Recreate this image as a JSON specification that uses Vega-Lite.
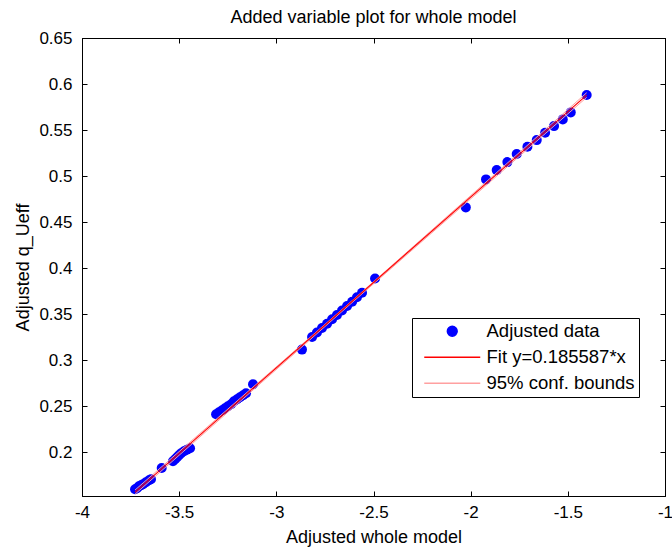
{
  "$schema": "https://vega.github.io/schema/vega-lite/v6.json",
  "width": 583,
  "height": 458,
  "autosize": {"type": "none"},
  "padding": {"left": 82, "top": 38, "right": 7, "bottom": 53},
  "background": "white",
  "title": {"text": "Added variable plot for whole model", "font": "Liberation Sans", "fontSize": 18, "fontWeight": "normal", "color": "black", "offset": 2},
  "config": {
    "view": {"stroke": "black", "strokeWidth": 1},
    "axis": {"domainColor": "black", "tickColor": "black", "labelColor": "black", "titleColor": "black", "labelFont": "Liberation Sans", "titleFont": "Liberation Sans", "labelFontSize": 17, "titleFontSize": 18, "titleFontWeight": "normal", "grid": false, "tickSize": -5, "labelPadding": 8, "labelFlush": false, "labelOverlap": false}
  },
  "datasets": {
    "pts": [
      {"series": "Adjusted data", "x": -3.727, "y": 0.1598},
      {"series": "Adjusted data", "x": -3.717, "y": 0.1609},
      {"series": "Adjusted data", "x": -3.707, "y": 0.1630},
      {"series": "Adjusted data", "x": -3.696, "y": 0.1641},
      {"series": "Adjusted data", "x": -3.686, "y": 0.1652},
      {"series": "Adjusted data", "x": -3.671, "y": 0.1674},
      {"series": "Adjusted data", "x": -3.655, "y": 0.1696},
      {"series": "Adjusted data", "x": -3.645, "y": 0.1707},
      {"series": "Adjusted data", "x": -3.590, "y": 0.1829},
      {"series": "Adjusted data", "x": -3.532, "y": 0.1902},
      {"series": "Adjusted data", "x": -3.521, "y": 0.1924},
      {"series": "Adjusted data", "x": -3.511, "y": 0.1946},
      {"series": "Adjusted data", "x": -3.501, "y": 0.1967},
      {"series": "Adjusted data", "x": -3.490, "y": 0.1989},
      {"series": "Adjusted data", "x": -3.475, "y": 0.2011},
      {"series": "Adjusted data", "x": -3.460, "y": 0.2027},
      {"series": "Adjusted data", "x": -3.444, "y": 0.2043},
      {"series": "Adjusted data", "x": -3.310, "y": 0.2413},
      {"series": "Adjusted data", "x": -3.295, "y": 0.2435},
      {"series": "Adjusted data", "x": -3.279, "y": 0.2457},
      {"series": "Adjusted data", "x": -3.264, "y": 0.2478},
      {"series": "Adjusted data", "x": -3.249, "y": 0.2500},
      {"series": "Adjusted data", "x": -3.233, "y": 0.2522},
      {"series": "Adjusted data", "x": -3.218, "y": 0.2554},
      {"series": "Adjusted data", "x": -3.202, "y": 0.2576},
      {"series": "Adjusted data", "x": -3.187, "y": 0.2598},
      {"series": "Adjusted data", "x": -3.171, "y": 0.2620},
      {"series": "Adjusted data", "x": -3.156, "y": 0.2641},
      {"series": "Adjusted data", "x": -3.120, "y": 0.2739},
      {"series": "Adjusted data", "x": -2.868, "y": 0.3115},
      {"series": "Adjusted data", "x": -2.816, "y": 0.3253},
      {"series": "Adjusted data", "x": -2.791, "y": 0.3301},
      {"series": "Adjusted data", "x": -2.765, "y": 0.3349},
      {"series": "Adjusted data", "x": -2.739, "y": 0.3397},
      {"series": "Adjusted data", "x": -2.713, "y": 0.3445},
      {"series": "Adjusted data", "x": -2.688, "y": 0.3492},
      {"series": "Adjusted data", "x": -2.662, "y": 0.3540},
      {"series": "Adjusted data", "x": -2.636, "y": 0.3588},
      {"series": "Adjusted data", "x": -2.610, "y": 0.3636},
      {"series": "Adjusted data", "x": -2.585, "y": 0.3684},
      {"series": "Adjusted data", "x": -2.559, "y": 0.3732},
      {"series": "Adjusted data", "x": -2.492, "y": 0.3888},
      {"series": "Adjusted data", "x": -2.025, "y": 0.4660},
      {"series": "Adjusted data", "x": -1.921, "y": 0.4964},
      {"series": "Adjusted data", "x": -1.866, "y": 0.5065},
      {"series": "Adjusted data", "x": -1.811, "y": 0.5152},
      {"series": "Adjusted data", "x": -1.763, "y": 0.5239},
      {"series": "Adjusted data", "x": -1.708, "y": 0.5318},
      {"series": "Adjusted data", "x": -1.660, "y": 0.5391},
      {"series": "Adjusted data", "x": -1.617, "y": 0.5471},
      {"series": "Adjusted data", "x": -1.571, "y": 0.5543},
      {"series": "Adjusted data", "x": -1.526, "y": 0.5616},
      {"series": "Adjusted data", "x": -1.485, "y": 0.5692},
      {"series": "Adjusted data", "x": -1.403, "y": 0.5880}
    ],
    "bounds": [
      {"series": "Lower", "x": -3.727, "y": 0.1545},
      {"series": "Lower", "x": -2.6, "y": 0.3645},
      {"series": "Lower", "x": -1.403, "y": 0.5855},
      {"series": "Upper", "x": -3.727, "y": 0.1590},
      {"series": "Upper", "x": -2.6, "y": 0.3665},
      {"series": "Upper", "x": -1.403, "y": 0.5905}
    ],
    "fit": [
      {"series": "Fit", "x": -3.727, "y": 0.1567},
      {"series": "Fit", "x": -1.403, "y": 0.5880}
    ]
  },
  "layer": [
    {
      "data": {"name": "pts"},
      "mark": {"type": "point", "filled": true, "opacity": 1, "size": 100},
      "encoding": {
        "x": {"field": "x", "type": "quantitative", "scale": {"domain": [-4, -1], "nice": false, "zero": false},
              "axis": {"orient": "bottom", "values": [-4, -3.5, -3, -2.5, -2, -1.5, -1], "labelExpr": "datum.value + ''", "title": "Adjusted whole model", "labelPadding": 13, "titlePadding": 8}},
        "y": {"field": "y", "type": "quantitative", "scale": {"domain": [0.1525, 0.65], "nice": false, "zero": false},
              "axis": {"orient": "left", "values": [0.2, 0.25, 0.3, 0.35, 0.4, 0.45, 0.5, 0.55, 0.6, 0.65], "labelExpr": "datum.value + ''", "title": "Adjusted q_Ueff", "labelPadding": 15, "titlePadding": 6}},
        "color": {"field": "series", "type": "nominal",
                  "scale": {"domain": ["Adjusted data", "Fit y=0.185587*x", "95% conf. bounds"], "range": ["#0000ff", "#ff0000", "#ffa0a0"]},
                  "legend": {"title": null, "orient": "none", "legendX": 330, "legendY": 280, "strokeColor": "black", "fillColor": "white", "padding": 4, "symbolOffset": 27, "labelOffset": 25, "rowPadding": 7, "labelFont": "Liberation Sans", "labelFontSize": 18.5, "labelColor": "black", "symbolSize": 100, "symbolOpacity": 1,
                             "encode": {"symbols": {"update": {"stroke": {"scale": "color", "field": "value"}, "strokeWidth": {"value": 1.3}}}}}},
        "shape": {"field": "series", "type": "nominal",
                  "scale": {"domain": ["Adjusted data", "Fit y=0.185587*x", "95% conf. bounds"], "range": ["circle", "M-5.6,0H5.6", "M-5.6,0H5.6"]},
                  "legend": {"title": null, "orient": "none", "legendX": 330, "legendY": 280, "strokeColor": "black", "fillColor": "white", "padding": 4, "symbolOffset": 27, "labelOffset": 25, "rowPadding": 7, "labelFont": "Liberation Sans", "labelFontSize": 18.5, "labelColor": "black", "symbolSize": 100, "symbolOpacity": 1,
                             "encode": {"symbols": {"update": {"stroke": {"scale": "color", "field": "value"}, "strokeWidth": {"value": 1.3}}}}}}
      }
    },
    {
      "data": {"name": "bounds"},
      "mark": {"type": "line", "color": "#ffa0a0", "strokeWidth": 1},
      "encoding": {
        "x": {"field": "x", "type": "quantitative", "scale": {"domain": [-4, -1], "nice": false, "zero": false},
              "axis": {"orient": "top", "values": [-4, -3.5, -3, -2.5, -2, -1.5, -1], "labels": false, "title": null}},
        "y": {"field": "y", "type": "quantitative", "scale": {"domain": [0.1525, 0.65], "nice": false, "zero": false},
              "axis": {"orient": "right", "values": [0.2, 0.25, 0.3, 0.35, 0.4, 0.45, 0.5, 0.55, 0.6, 0.65], "labels": false, "title": null}},
        "detail": {"field": "series"}
      }
    },
    {
      "data": {"name": "fit"},
      "mark": {"type": "line", "color": "#ff0000", "strokeWidth": 1.2},
      "encoding": {
        "x": {"field": "x", "type": "quantitative", "scale": {"domain": [-4, -1], "nice": false, "zero": false}, "axis": null},
        "y": {"field": "y", "type": "quantitative", "scale": {"domain": [0.1525, 0.65], "nice": false, "zero": false}, "axis": null}
      }
    }
  ],
  "resolve": {"axis": {"x": "independent", "y": "independent"}}
}
